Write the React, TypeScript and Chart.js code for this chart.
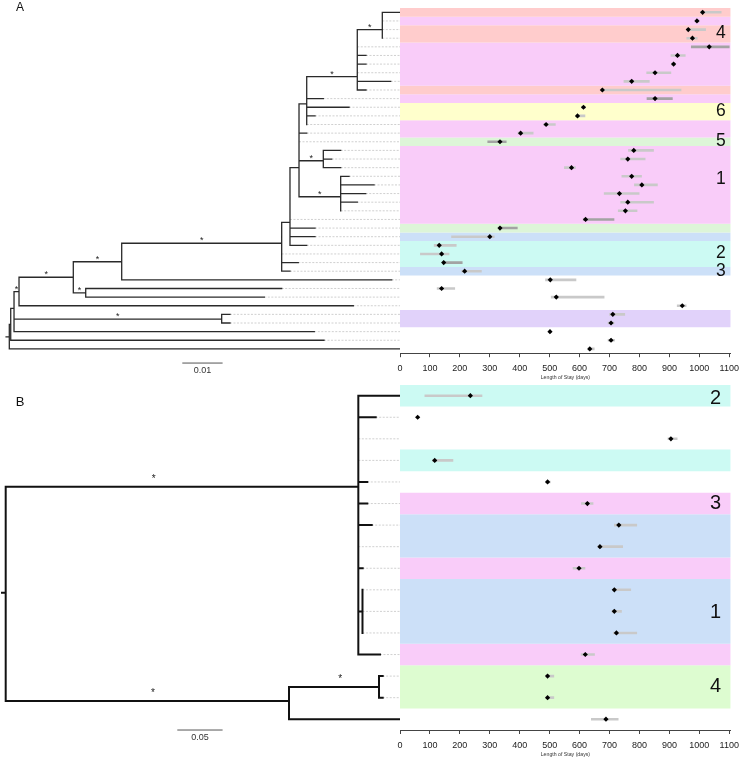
import React, { useEffect, useRef } from "react";
import { Chart, registerables } from "chart.js";

Chart.register(...registerables);

const FONT = '"Liberation Sans", Arial, Helvetica, sans-serif';

// ---------------- shared ----------------
const stayTicks = [0, 100, 200, 300, 400, 500, 600, 700, 800, 900, 1000, 1100];
const stayAxisMax = 1105;
const stayTitle = "Length of Stay (days)";

const bandPalette: Record<string, string> = {
  red: "#FFCCCC",
  pink: "#F9CCF9",
  yellow: "#FFFFCC",
  green: "#DDF5D8",
  blue: "#CCE0F8",
  cyan: "#CCFAF3",
  lavender: "#E1D2FA",
  lime: "#DDFCD0",
};

// ---------------- Panel A data ----------------
const stayMedA = [1011, 992, 963, 977, 1033, 927, 914, 852, 774, 676, 852, 613, 593, 488, 403, 334, 781, 761, 573, 774, 808, 733, 761, 753, 620, 334, 300, 131, 139, 146, 216, 502, 139, 522, 943, 711, 705, 501, 705, 634];
const stayLowA = [1002, 985, 958, 957, 972, 904, 906, 823, 747, 676, 824, 606, 587, 479, 393, 292, 762, 736, 548, 740, 782, 681, 736, 728, 611, 334, 171, 113, 67, 146, 205, 485, 123, 504, 925, 699, 694, 501, 694, 627];
const stayHighA = [1074, 1000, 1022, 994, 1101, 954, 921, 906, 834, 940, 911, 620, 619, 520, 446, 356, 848, 820, 587, 808, 861, 800, 848, 793, 716, 393, 316, 189, 165, 209, 273, 589, 184, 683, 957, 752, 716, 501, 718, 650];
const darkRowsA = [5, 11, 16, 25, 26, 30];

const bandStartA = [1, 2, 3, 5, 10, 11, 12, 14, 16, 17, 26, 27, 28, 31, 36];
const bandEndA = [1, 2, 4, 9, 10, 11, 13, 15, 16, 25, 26, 27, 30, 31, 37];
const bandGroupA = ["red", "pink", "red", "pink", "red", "pink", "yellow", "pink", "green", "pink", "green", "blue", "cyan", "blue", "lavender"];

const clusterLabelA = ["4", "6", "5", "1", "2", "3"];
const clusterRowA = [3.4, 12.4, 15.95, 20.3, 28.9, 31.0];

// tree A (internal nodes)
const treeANodeParent = [-1, 0, 1, 2, 3, 4, 4, 6, 7, 8, 9, 10, 11, 9, 9, 2];
const treeANodeDepth = [0, 0.00035, 0.00117, 0.00241, 0.01588, 0.01896, 0.02789, 0.06759, 0.06965, 0.07189, 0.0738, 0.08635, 0.09256, 0.07792, 0.08223, 0.0527];
const treeANodeRow = [38.6, 37.15, 35.3, 33.37, 31.7, 33.5, 29.9, 27.76, 25.33, 19.0, 11.62, 8.46, 3.0, 18.2, 22.37, 36.54];
const treeANodeStar = [0, 0, 0, 1, 1, 1, 1, 1, 0, 0, 0, 1, 1, 1, 1, 1];
const treeAStarFrac = [0.5, 0.5, 0.5, 0.5, 0.5, 0.5, 0.5, 0.5, 0.5, 0.5, 0.5, 0.5, 0.5, 0.5, 0.5, 0.5];
// tree A (tips, rows 1..40)
const treeATipParent = [12, 12, 12, 12, 11, 11, 11, 11, 11, 11, 10, 10, 10, 10, 9, 9, 13, 13, 13, 14, 14, 14, 14, 14, 8, 8, 8, 8, 7, 7, 7, 6, 5, 5, 3, 15, 15, 2, 1, 0];
const treeATipDepth = [0.09695, 0.09256, 0.09256, 0.09256, 0.08635, 0.08851, 0.08851, 0.08635, 0.09464, 0.08851, 0.07792, 0.0843, 0.07586, 0.0738, 0.0738, 0.07189, 0.08223, 0.08, 0.08223, 0.0843, 0.0905, 0.08844, 0.08635, 0.08223, 0.06965, 0.07586, 0.07586, 0.0738, 0.06759, 0.07171, 0.06965, 0.09489, 0.06759, 0.06328, 0.08536, 0.05476, 0.05476, 0.07568, 0.07809, 0.09695];
const treeAScaleLen = 0.01;
const treeAScaleLabel = "0.01";

// ---------------- Panel B data ----------------
const stayMedB = [235, 59, 905, 116, 493, 626, 731, 668, 598, 716, 716, 723, 619, 493, 493, 688];
const stayLowB = [82, 59, 894, 108, 486, 605, 715, 660, 577, 716, 707, 712, 604, 486, 486, 638];
const stayHighB = [275, 59, 927, 178, 503, 646, 792, 745, 619, 772, 741, 792, 651, 515, 515, 730];

const bandStartB = [1, 4, 6, 7, 9, 10, 13, 14];
const bandEndB = [1, 4, 6, 8, 9, 12, 13, 15];
const bandGroupB = ["cyan", "cyan", "pink", "blue", "pink", "blue", "pink", "lime"];

const clusterLabelB = ["2", "3", "1", "4"];
const clusterRowB = [1.15, 6.02, 11.07, 14.46];

const treeBNodeParent = [-1, 0, 1, 0, 3];
const treeBNodeDepth = [0, 0.3892, 0.3938, 0.3127, 0.412];
const treeBNodeRow = [10.14, 5.22, 11, 15.15, 14.5];
const treeBNodeStar = [0, 1, 0, 1, 1];
const treeBStarFrac = [0.5, 0.42, 0.5, 0.52, 0.57];
const treeBTipParent = [1, 1, 1, 1, 1, 1, 1, 1, 1, 2, 2, 2, 1, 4, 4, 3];
const treeBTipDepth = [0.4352, 0.4084, 0.3892, 0.3892, 0.3991, 0.3991, 0.404, 0.3892, 0.394, 0.3938, 0.3938, 0.3938, 0.4131, 0.4161, 0.4161, 0.4352];
const treeBScaleLen = 0.05;
const treeBScaleLabel = "0.05";

// ---------------- helpers ----------------
type P = { x: number | null; y: number | null };
const GAP: P = { x: null, y: null };

type TextItem = {
  text: string;
  x: number;
  y: number;
  font: string;
  color: string;
  align?: CanvasTextAlign;
  baseline?: CanvasTextBaseline;
  dy?: number;
  px?: boolean;
};

function textPlugin(id: string, items: TextItem[]) {
  return {
    id,
    afterDatasetsDraw(chart: any) {
      const ctx = chart.ctx as CanvasRenderingContext2D;
      const xs = chart.scales.x;
      const ys = chart.scales.y;
      ctx.save();
      for (const it of items) {
        const X = it.px ? it.x : xs.getPixelForValue(it.x);
        const Y = (it.px ? it.y : ys.getPixelForValue(it.y)) + (it.dy || 0);
        ctx.font = it.font;
        ctx.fillStyle = it.color;
        ctx.textAlign = it.align || "center";
        ctx.textBaseline = it.baseline || "middle";
        ctx.fillText(it.text, X, Y);
      }
      ctx.restore();
    },
  };
}

function treeConfig(opts: {
  nodeParent: number[];
  nodeDepth: number[];
  nodeRow: number[];
  nodeStar: number[];
  starFrac: number[];
  tipParent: number[];
  tipDepth: number[];
  xMin: number;
  xMax: number;
  yMax: number;
  rootStub: number;
  scaleStart: number;
  scaleLen: number;
  scaleLabel: string;
  scaleRow: number;
  scaleTextRow: number;
  padTop: number;
  padBottom: number;
  lineWidth: number;
  lineColor: string;
  starFont: string;
  starDy: number;
  letter: string;
  letterX: number;
  letterY: number;
  letterFont: string;
}) {
  const { nodeParent, nodeDepth, nodeRow, tipParent, tipDepth, xMax } = opts;
  const solid: P[] = [];
  const dashed: P[] = [];
  nodeParent.forEach((p, i) => {
    if (p < 0) {
      solid.push({ x: nodeDepth[i] - opts.rootStub, y: nodeRow[i] }, { x: nodeDepth[i], y: nodeRow[i] }, GAP);
    } else {
      solid.push({ x: nodeDepth[p], y: nodeRow[p] }, { x: nodeDepth[p], y: nodeRow[i] }, { x: nodeDepth[i], y: nodeRow[i] }, GAP);
    }
  });
  tipParent.forEach((p, k) => {
    const row = k + 1;
    solid.push({ x: nodeDepth[p], y: nodeRow[p] }, { x: nodeDepth[p], y: row }, { x: tipDepth[k], y: row }, GAP);
    if (xMax - tipDepth[k] > 1e-6) dashed.push({ x: tipDepth[k], y: row }, { x: xMax, y: row }, GAP);
  });
  const scaleBar: P[] = [
    { x: opts.scaleStart, y: opts.scaleRow },
    { x: opts.scaleStart + opts.scaleLen, y: opts.scaleRow },
  ];
  const texts: TextItem[] = [];
  nodeParent.forEach((p, i) => {
    if (p >= 0 && opts.nodeStar[i]) {
      const f = opts.starFrac[i];
      texts.push({
        text: "*",
        x: nodeDepth[p] + (nodeDepth[i] - nodeDepth[p]) * f,
        y: nodeRow[i],
        font: opts.starFont,
        color: "#222",
        baseline: "alphabetic",
        dy: opts.starDy,
      });
    }
  });
  texts.push({
    text: opts.scaleLabel,
    x: opts.scaleStart + opts.scaleLen / 2,
    y: opts.scaleTextRow,
    font: `9px ${FONT}`,
    color: "#333",
  });
  texts.push({ text: opts.letter, x: opts.letterX, y: opts.letterY, px: true, font: opts.letterFont, color: "#111" });

  return {
    type: "scatter" as const,
    data: {
      datasets: [
        {
          data: solid,
          showLine: true,
          borderColor: opts.lineColor,
          borderWidth: opts.lineWidth,
          pointRadius: 0,
          borderCapStyle: "square" as const,
          borderJoinStyle: "miter" as const,
          spanGaps: false,
          order: 1,
        },
        {
          data: dashed,
          showLine: true,
          borderColor: "#c4c4c4",
          borderWidth: 0.8,
          borderDash: [2, 1.5],
          pointRadius: 0,
          spanGaps: false,
          order: 2,
        },
        {
          data: scaleBar,
          showLine: true,
          borderColor: "#555",
          borderWidth: 1,
          pointRadius: 0,
          order: 1,
        },
      ],
    },
    options: {
      responsive: false,
      animation: false as const,
      events: [] as any[],
      layout: { padding: { top: opts.padTop, bottom: opts.padBottom, left: 0, right: 0 } },
      plugins: { legend: { display: false }, tooltip: { enabled: false } },
      scales: {
        x: { type: "linear" as const, display: false, min: opts.xMin, max: opts.xMax },
        y: { type: "linear" as const, display: false, min: 0.5, max: opts.yMax, reverse: true },
      },
    },
    plugins: [textPlugin("treeText" + opts.letter, texts)],
  };
}

function stayConfig(opts: {
  med: number[];
  low: number[];
  high: number[];
  darkRows: number[];
  bandStart: number[];
  bandEnd: number[];
  bandGroup: string[];
  labels: string[];
  labelRows: number[];
  labelX: number;
  labelFont: string;
  rows: number;
  padTop: number;
  padBottom: number;
}) {
  const datasets: any[] = [];
  opts.bandStart.forEach((s, i) => {
    datasets.push({
      data: [
        { x: 0, y: s - 0.5 },
        { x: stayAxisMax, y: s - 0.5 },
      ],
      showLine: true,
      borderColor: "rgba(0,0,0,0)",
      borderWidth: 0,
      pointRadius: 0,
      backgroundColor: bandPalette[opts.bandGroup[i]],
      fill: { value: opts.bandEnd[i] + 0.5 },
      order: 10,
    });
  });
  const light: P[] = [];
  const dark: P[] = [];
  const pts: P[] = [];
  opts.med.forEach((m, k) => {
    const row = k + 1;
    if (opts.high[k] > opts.low[k]) {
      const target = opts.darkRows.includes(row) ? dark : light;
      target.push({ x: opts.low[k], y: row }, { x: opts.high[k], y: row }, GAP);
    }
    pts.push({ x: m, y: row });
  });
  datasets.push({
    data: light,
    showLine: true,
    borderColor: "#c9c9c9",
    borderWidth: 2.6,
    pointRadius: 0,
    spanGaps: false,
    order: 5,
  });
  datasets.push({
    data: dark,
    showLine: true,
    borderColor: "#a3a3a3",
    borderWidth: 2.6,
    pointRadius: 0,
    spanGaps: false,
    order: 5,
  });
  datasets.push({
    data: pts,
    showLine: false,
    pointStyle: "rectRot",
    pointRadius: 2.6,
    pointBackgroundColor: "#000",
    pointBorderColor: "#000",
    pointBorderWidth: 0,
    order: 1,
  });
  const texts: TextItem[] = opts.labels.map((t, i) => ({
    text: t,
    x: opts.labelX,
    y: opts.labelRows[i],
    font: opts.labelFont,
    color: "#111",
  }));
  return {
    type: "scatter" as const,
    data: { datasets },
    options: {
      responsive: false,
      animation: false as const,
      events: [] as any[],
      layout: { padding: { top: opts.padTop, bottom: opts.padBottom, left: 10, right: 10.5 } },
      plugins: { legend: { display: false }, tooltip: { enabled: false } },
      scales: {
        x: {
          type: "linear" as const,
          min: 0,
          max: stayAxisMax,
          afterBuildTicks: (s: any) => {
            s.ticks = stayTicks.map((v) => ({ value: v }));
          },
          afterFit: (s: any) => {
            s.height = 27.5;
          },
          grid: { display: true, drawOnChartArea: false, drawTicks: true, tickLength: 4, color: "#444", lineWidth: 1 },
          border: { display: true, color: "#444", width: 1 },
          ticks: {
            font: { family: FONT, size: 9 },
            color: "#222",
            padding: 6,
            maxRotation: 0,
            autoSkip: false,
            callback: (v: any) => String(v),
          },
          title: {
            display: true,
            text: stayTitle,
            font: { family: FONT, size: 5.2 },
            color: "#333",
            padding: 0,
          },
        },
        y: { type: "linear" as const, display: false, min: 0.5, max: opts.rows + 0.5, reverse: true },
      },
    },
    plugins: [textPlugin("stayText" + opts.rows, texts)],
  };
}

function ChartBox(props: { left: number; top: number; width: number; height: number; make: () => any }) {
  const ref = useRef<HTMLCanvasElement>(null);
  useEffect(() => {
    const chart = new Chart(ref.current as HTMLCanvasElement, props.make());
    return () => chart.destroy();
  }, []);
  return (
    <div style={{ position: "absolute", left: props.left, top: props.top, width: props.width, height: props.height }}>
      <canvas ref={ref} width={props.width} height={props.height} style={{ display: "block", width: props.width, height: props.height }} />
    </div>
  );
}

export default function App() {
  return (
    <div style={{ position: "absolute", left: 0, top: 0, width: 745, height: 759, background: "#fff", overflow: "hidden" }}>
      <ChartBox
        left={0}
        top={0}
        width={400}
        height={385}
        make={() =>
          treeConfig({
            nodeParent: treeANodeParent,
            nodeDepth: treeANodeDepth,
            nodeRow: treeANodeRow,
            nodeStar: treeANodeStar,
            starFrac: treeAStarFrac,
            tipParent: treeATipParent,
            tipDepth: treeATipDepth,
            xMin: -0.00231,
            xMax: 0.09695,
            yMax: 43.5,
            rootStub: 0.0008,
            scaleStart: 0.04293,
            scaleLen: treeAScaleLen,
            scaleLabel: treeAScaleLabel,
            scaleRow: 41.64,
            scaleTextRow: 42.45,
            padTop: 8,
            padBottom: 5.9,
            lineWidth: 1.3,
            lineColor: "#2a2a2a",
            starFont: `9px ${FONT}`,
            starDy: 0,
            letter: "A",
            letterX: 20,
            letterY: 7.5,
            letterFont: `12px ${FONT}`,
          })
        }
      />
      <ChartBox
        left={390}
        top={0}
        width={355}
        height={385}
        make={() =>
          stayConfig({
            med: stayMedA,
            low: stayLowA,
            high: stayHighA,
            darkRows: darkRowsA,
            bandStart: bandStartA,
            bandEnd: bandEndA,
            bandGroup: bandGroupA,
            labels: clusterLabelA,
            labelRows: clusterRowA,
            labelX: 1072,
            labelFont: `17.5px ${FONT}`,
            rows: stayMedA.length,
            padTop: 8,
            padBottom: 4.3,
          })
        }
      />
      <ChartBox
        left={0}
        top={375}
        width={400}
        height={384}
        make={() =>
          treeConfig({
            nodeParent: treeBNodeParent,
            nodeDepth: treeBNodeDepth,
            nodeRow: treeBNodeRow,
            nodeStar: treeBNodeStar,
            starFrac: treeBStarFrac,
            tipParent: treeBTipParent,
            tipDepth: treeBTipDepth,
            xMin: -0.00629,
            xMax: 0.4352,
            yMax: 17.5,
            rootStub: 0.0041,
            scaleStart: 0.1894,
            scaleLen: treeBScaleLen,
            scaleLabel: treeBScaleLabel,
            scaleRow: 16.5,
            scaleTextRow: 16.87,
            padTop: 9.9,
            padBottom: 7.4,
            lineWidth: 2,
            lineColor: "#111",
            starFont: `10px ${FONT}`,
            starDy: -5,
            letter: "B",
            letterX: 20,
            letterY: 27.8,
            letterFont: `13px ${FONT}`,
          })
        }
      />
      <ChartBox
        left={390}
        top={375}
        width={355}
        height={384}
        make={() =>
          stayConfig({
            med: stayMedB,
            low: stayLowB,
            high: stayHighB,
            darkRows: [],
            bandStart: bandStartB,
            bandEnd: bandEndB,
            bandGroup: bandGroupB,
            labels: clusterLabelB,
            labelRows: clusterRowB,
            labelX: 1054,
            labelFont: `20px ${FONT}`,
            rows: stayMedB.length,
            padTop: 9.9,
            padBottom: 1.5,
          })
        }
      />
    </div>
  );
}
